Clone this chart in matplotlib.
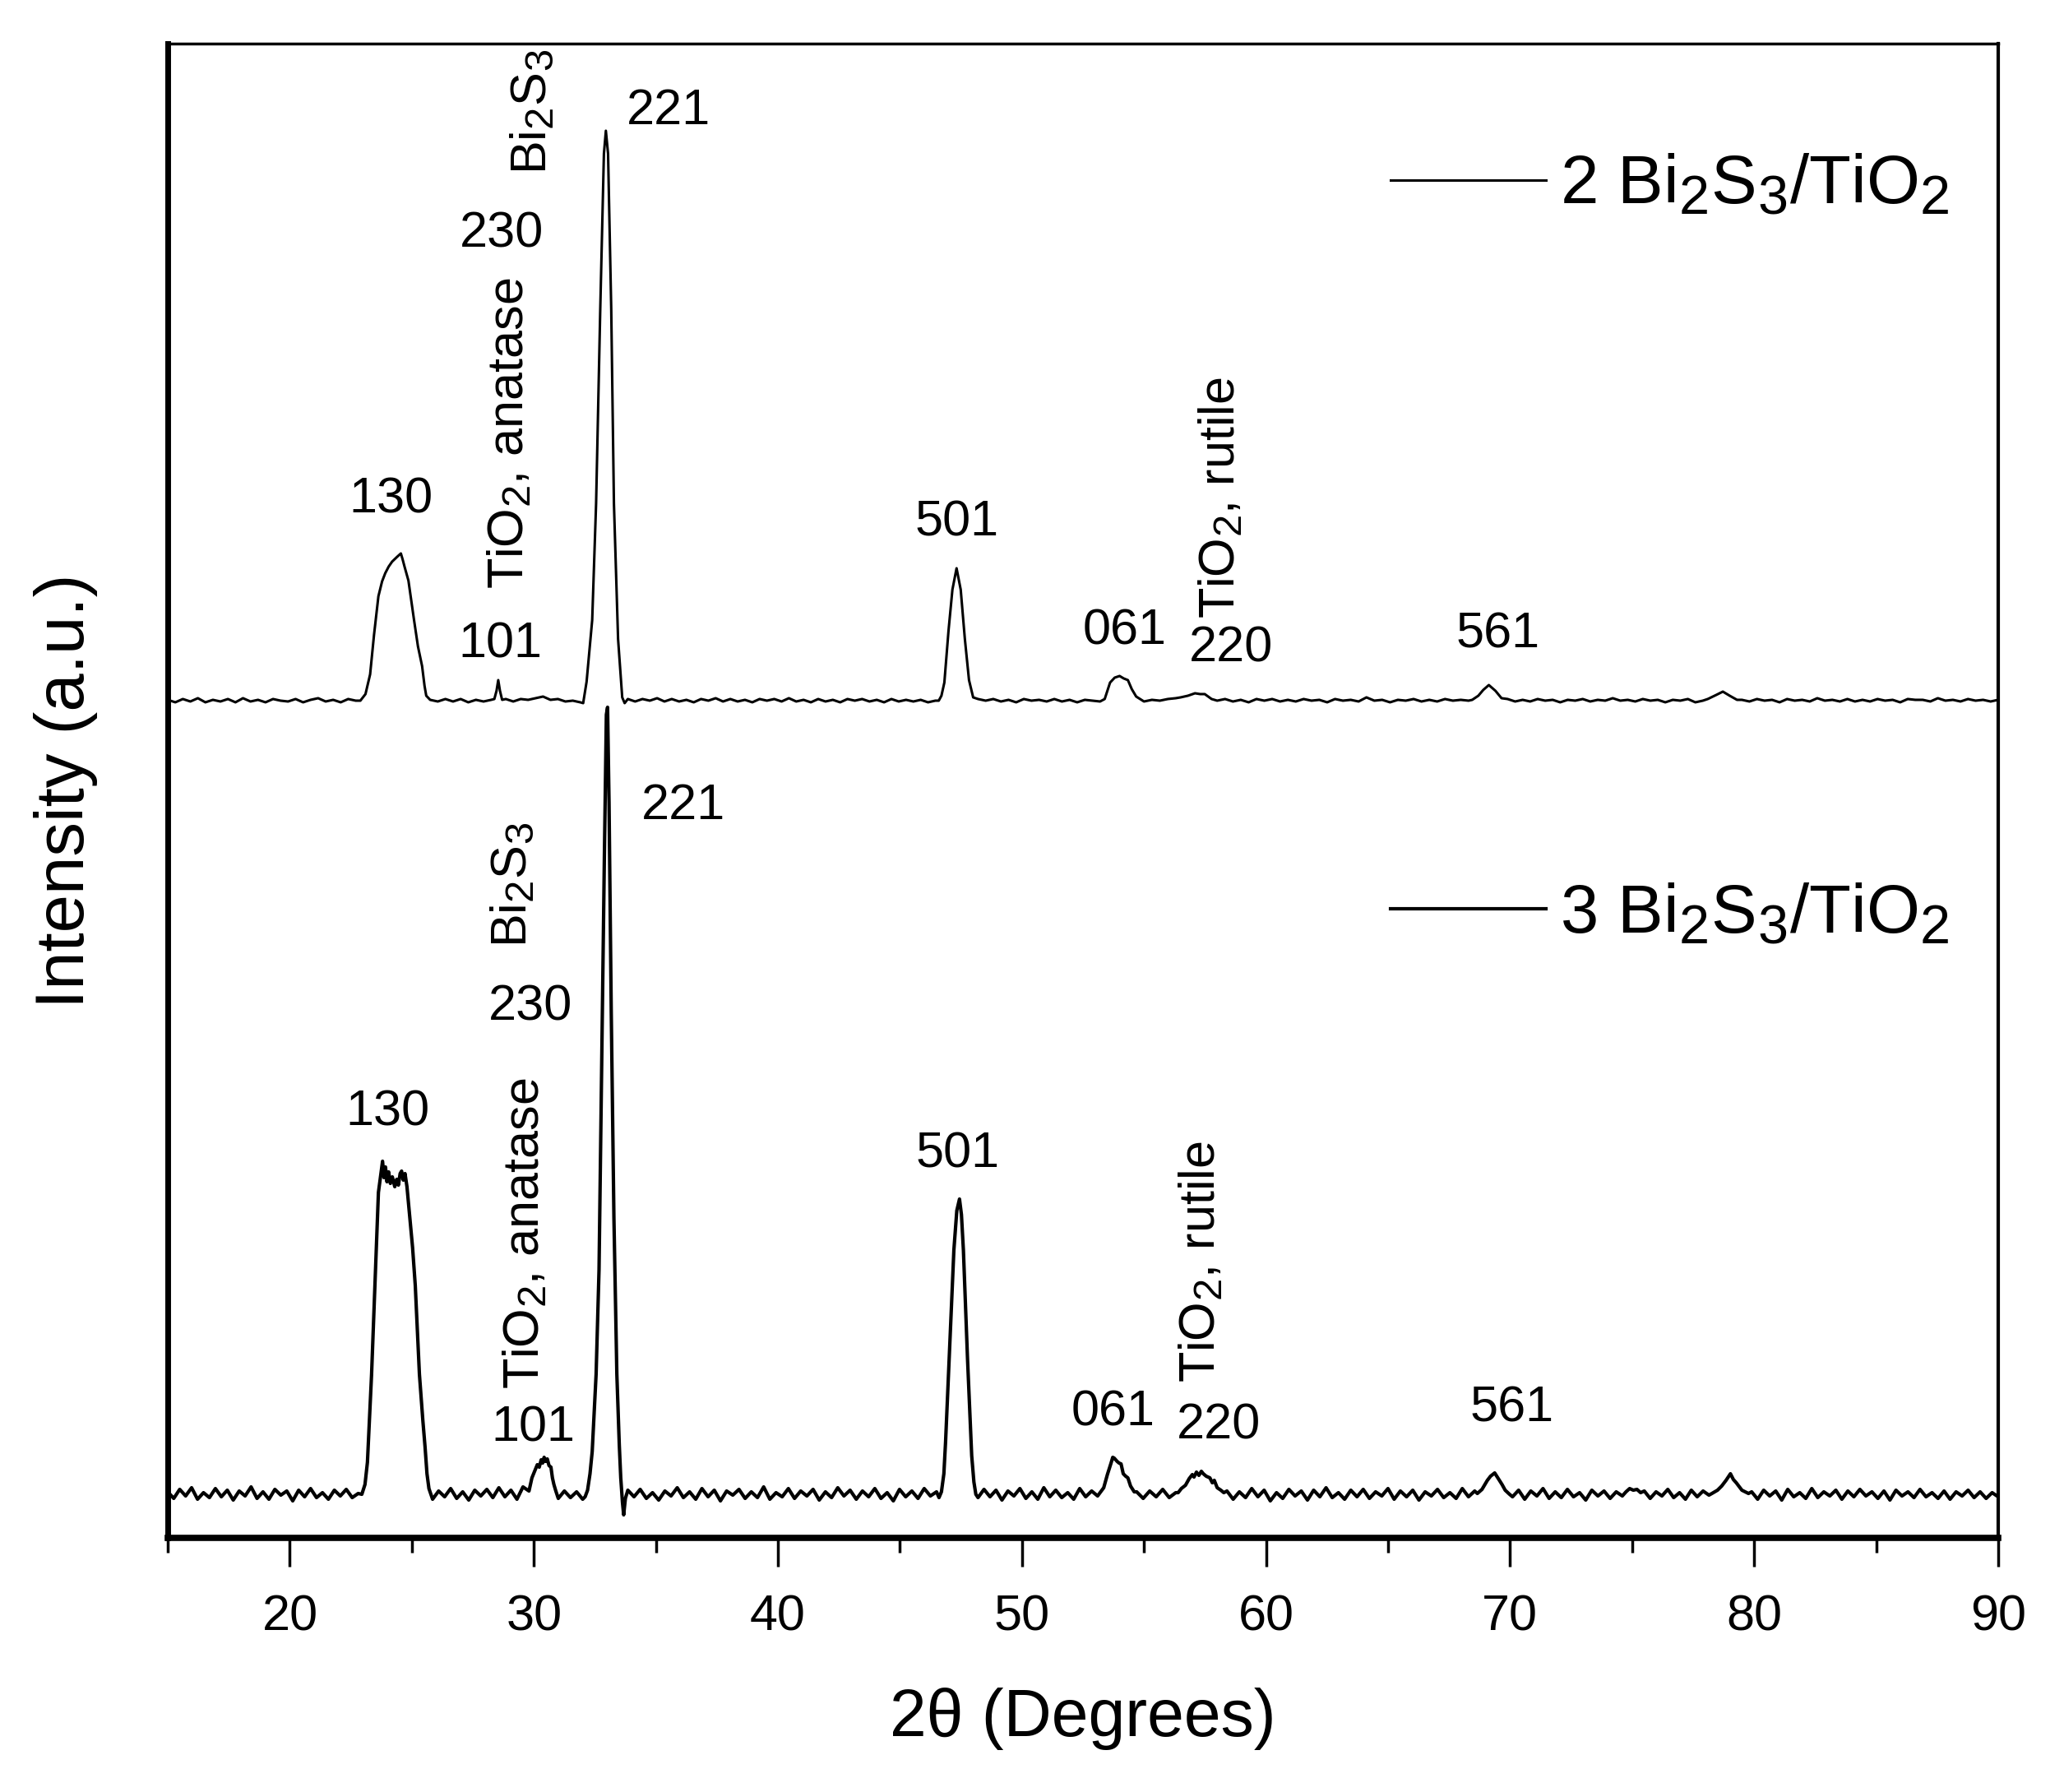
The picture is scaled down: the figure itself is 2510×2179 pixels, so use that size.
import numpy as np
import matplotlib
matplotlib.use("Agg")
import matplotlib.pyplot as plt

plt.rcParams["font.family"] = ["Liberation Sans", "DejaVu Sans"]
plt.rcParams["mathtext.fontset"] = "custom"
plt.rcParams["mathtext.rm"] = "Liberation Sans"
plt.rcParams["mathtext.it"] = "Liberation Sans"
plt.rcParams["mathtext.default"] = "regular"

# Origin-style subscripts are bigger than mathtext's default 0.7
try:
    import matplotlib._mathtext as _mt
    _mt.SHRINK_FACTOR = 0.8
except Exception:
    pass

# ---- 2 Bi2S3/TiO2 (upper pattern), intensity (a.u.) ----
upper_peaks = [
    # 130
    (22.89, 0), (23.1, 8), (23.29, 32), (23.45, 80), (23.63, 127), (23.78, 145),
    (23.91, 155), (24.05, 163), (24.19, 169), (24.4, 175), (24.55, 179),
    (24.62, 172), (24.7, 163), (24.86, 146), (25.09, 98), (25.25, 66),
    (25.42, 42), (25.52, 18), (25.59, 6),
    # 101 anatase
    (28.38, 2), (28.47, 12), (28.54, 25), (28.61, 12), (28.7, 1),
    # 221
    (32.02, -3), (32.16, 23), (32.39, 98), (32.55, 240), (32.72, 476),
    (32.87, 665), (32.95, 693), (33.04, 665), (33.17, 476), (33.28, 240),
    (33.45, 75), (33.62, 4), (33.72, -3),
    # 501
    (46.59, 0), (46.7, 6), (46.82, 22), (46.99, 85), (47.15, 135), (47.32, 161),
    (47.49, 135), (47.66, 75), (47.83, 25), (48.0, 4),
    # 061
    (53.39, 2), (53.61, 22), (53.8, 28), (54.0, 30), (54.17, 27), (54.34, 25),
    (54.5, 14), (54.68, 5),
    # 220 rutile
    (56.5, 4), (56.8, 6), (57.09, 9), (57.3, 8), (57.49, 8), (57.77, 2),
    # 561
    (68.45, 1), (68.7, 6), (68.9, 13), (69.13, 19), (69.4, 12), (69.65, 3),
    # ~79
    (78.1, 2), (78.45, 7), (78.72, 11), (79.0, 6), (79.3, 1),
]
upper_base = [  # (from, to, baseline readings)
    (15.0, 22.7, [1, -2, 2, -1, 3, -2, 1, -1, 2, -2, 3, -1, 1, -2, 2, 0, -1, 2, -2, 1, 3, -1, 1, -2, 2, 0]),
    (25.75, 28.25, [1, -1, 2, -1, 2, -2, 1, -1, 1]),
    (28.85, 31.9, [2, -1, 2, 1, 3, 5, 1, 2, -1, 0, -2]),
    (33.85, 46.45, [2, -1, 2, 0, 3, -1, 2, -1, 1, -2, 2, 0, 3, -1, 2, -1, 1, -2, 2, 0, 2, -1,
                    3, -1, 1, -2, 2, -1, 1, -2, 2, 0, 2, -1, 1, -2, 2, -1, 1, -1, 1, -2, 0]),
    (48.2, 53.2, [2, 0, 2, -1, 1, -2, 2, 0, 1, -1, 2, -1, 1, -2, 1, 0, -1]),
    (55.0, 56.3, [-1, 1, 0, 2, 3]),
    (58.0, 68.3, [0, 2, -1, 1, -2, 2, 0, 2, -1, 1, -1, 2, 0, 1, -2, 2, 0, 1, -1, 4, 0, 1,
                  -2, 1, 0, 2, -1, 1, -1, 2, 0, 1, 0]),
    (69.9, 77.9, [2, -1, 1, -1, 2, 0, 1, -2, 1, 0, 2, -1, 1, 0, 3, 0, 1, -1, 2, 0, 1, -2,
                  1, 0, 2, -2, 0]),
    (79.5, 90.0, [1, -1, 2, 0, 1, -2, 2, 0, 1, -1, 3, 0, 1, -1, 2, -1, 1, -1, 2, 0, 1, -2,
                  2, 1, 1, -1, 3, 0, 1, -1, 2, 0, 1, -1, 1]),
]

# ---- 3 Bi2S3/TiO2 (lower pattern) ----
lower_peaks = [
    # 130
    (22.95, 0), (23.08, 12), (23.18, 39), (23.35, 146), (23.51, 273), (23.63, 367),
    (23.74, 392), (23.8, 405), (23.86, 385), (23.92, 398), (23.98, 380), (24.05, 392),
    (24.12, 378), (24.2, 386), (24.3, 374), (24.38, 383), (24.45, 376), (24.52, 390),
    (24.58, 393), (24.65, 382), (24.72, 390), (24.8, 374), (24.92, 336), (25.03, 300),
    (25.14, 254), (25.31, 146), (25.45, 90), (25.54, 58), (25.62, 25), (25.7, 7),
    # 101 anatase
    (29.92, 20), (30.03, 28), (30.14, 36), (30.22, 33), (30.3, 42), (30.36, 38),
    (30.42, 45), (30.48, 40), (30.55, 43), (30.62, 35), (30.7, 33), (30.76, 20),
    (30.82, 12), (30.9, 4),
    # 221
    (32.1, -3), (32.2, 5), (32.3, 25), (32.39, 52), (32.55, 146), (32.67, 273),
    (32.78, 525), (32.89, 778), (32.97, 948), (33.02, 957), (33.08, 841), (33.17, 588),
    (33.28, 336), (33.4, 146), (33.5, 60), (33.56, 20), (33.63, -10), (33.68, -25),
    (33.75, -5),
    # 501
    (46.6, -4), (46.7, 3), (46.8, 25), (46.87, 64), (47.04, 180), (47.21, 297),
    (47.33, 345), (47.44, 359), (47.52, 340), (47.6, 297), (47.77, 164), (47.94, 47),
    (48.03, 15), (48.11, 0),
    # 061
    (53.2, 2), (53.35, 8), (53.5, 24), (53.65, 38), (53.72, 45), (53.78, 44), (53.9, 40),
    (53.98, 38), (54.06, 37), (54.15, 25), (54.25, 22), (54.34, 20), (54.45, 10), (54.6, 3),
    # 220 rutile
    (56.4, 2), (56.53, 7), (56.7, 11), (56.85, 19), (56.98, 24), (57.05, 21), (57.15, 27),
    (57.25, 23), (57.35, 28), (57.43, 25), (57.55, 22), (57.7, 20), (57.8, 14),
    (57.88, 17), (58.0, 8), (58.15, 5), (58.27, 2),
    # 561
    (68.66, 1), (68.85, 6), (69.07, 17), (69.2, 22), (69.37, 26), (69.5, 20),
    (69.67, 12), (69.8, 5), (69.98, 0),
    # ~75 and ~79
    (74.75, 3), (74.9, 7), (75.05, 5), (75.2, 6), (75.35, 2),
    (78.27, 1), (78.5, 5), (78.67, 10), (78.85, 17), (79.03, 25), (79.15, 18),
    (79.27, 14), (79.5, 5), (79.77, 1),
]
lower_base = [
    (15.0, 22.8, [3, -5, 6, -2, 8, -6, 2, -4, 7, -3, 5, -7, 4, -2, 9, -5, 3, -6, 6, -1, 4, -8,
                  5, -3, 7, -4, 2, -6, 5, -2, 6, -4, 1]),
    (25.85, 29.8, [-6, 4, -3, 7, -5, 3, -7, 5, -2, 6, -4, 8, -3, 5, -6, 9, 4]),
    (31.0, 32.0, [-5, 4, -4, 3, -6]),
    (33.85, 46.5, [5, -3, 6, -5, 2, -7, 4, -2, 8, -4, 3, -6, 7, -3, 5, -8, 4, -1, 6, -5, 3, -4,
                   9, -6, 2, -3, 7, -5, 4, -2, 6, -7, 3, -4, 8, -2, 5, -6, 4, -3, 7, -5, 2, -8,
                   6, -3, 4, -5, 7, -2, 3]),
    (48.2, 53.1, [-4, 6, -3, 5, -7, 4, -2, 7, -5, 3, -6, 8, -3, 5, -4, 2, -6, 7, -3, 4, -2]),
    (54.7, 56.3, [3, -5, 4, -3, 6, -4, 2]),
    (58.4, 68.55, [4, -6, 3, -4, 7, -3, 5, -8, 2, -5, 6, -2, 4, -7, 5, -3, 8, -4, 2, -6, 5, -3,
                   6, -5, 3, -2, 7, -6, 4, -3, 5, -7, 3, -2, 6, -4, 2, -5, 7, -3, 4]),
    (70.1, 74.6, [-3, 5, -6, 4, -2, 7, -5, 3, -4, 6, -3, 2, -7, 5, -2, 4, -5, 3, -2]),
    (75.5, 78.15, [4, -5, 3, -2, 6, -4, 2, -6, 5, -3, 4, -1]),
    (79.9, 90.0, [3, -6, 5, -2, 4, -7, 6, -3, 2, -5, 7, -4, 3, -2, 5, -6, 4, -3, 6, -2, 3, -5,
                  4, -7, 5, -2, 3, -4, 6, -3, 2, -5, 4, -6, 3, -2, 5, -4, 3, -5, 2, -3]),
]

offsets = {"upper": 1018, "lower": 53}

# peak labels: (text, 2theta, y, rotation)
upper_labels = [
    ("130", 24.13, 1262, 0), ("101", 28.61, 1086, 0),
    ("TiO$_2$, anatase", 29.05, 1343, 90), ("230", 28.68, 1585, 0),
    ("Bi$_2$S$_3$", 29.96, 1734, 90), ("221", 35.52, 1734, 0),
    ("501", 47.34, 1234, 0), ("061", 54.19, 1102, 0),
    ("TiO$_2$, rutile", 58.19, 1265, 90), ("220", 58.56, 1081, 0),
    ("561", 69.51, 1098, 0),
]
lower_labels = [
    ("130", 24.0, 517, 0), ("101", 29.96, 133, 0),
    ("TiO$_2$, anatase", 29.66, 370, 90), ("230", 29.86, 645, 0),
    ("Bi$_2$S$_3$", 29.15, 794, 90), ("221", 36.12, 889, 0),
    ("501", 47.38, 466, 0), ("061", 53.75, 152, 0),
    ("TiO$_2$, rutile", 57.38, 336, 90), ("220", 58.06, 136, 0),
    ("561", 70.09, 157, 0),
]


def build(peaks, base):
    pts = list(peaks)
    for start, stop, vals in base:
        xs = np.linspace(start, stop, len(vals))
        pts += list(zip(xs, vals))
    pts.sort(key=lambda p: p[0])
    x, y = zip(*pts)
    return np.array(x), np.array(y, dtype=float)


fig = plt.figure(figsize=(25.1, 21.79), dpi=100)
ax = fig.add_axes([0.0813, 0.1418, 0.9681 - 0.0813, 0.9757 - 0.1418])

x_up, y_up = build(upper_peaks, upper_base)
x_lo, y_lo = build(lower_peaks, lower_base)
l_up, = ax.plot(x_up, y_up + offsets["upper"], color="k", lw=2.2)
l_lo, = ax.plot(x_lo, y_lo + offsets["lower"], color="k", lw=3.0)

for txt, xx, yy, rot in upper_labels + lower_labels:
    ax.text(xx, yy, txt, fontsize=44, rotation=rot, ha="center", va="center")

ax.set_xlim(15, 90)
ax.set_ylim(0, 1817)
ax.set_xticks(np.arange(20, 91, 10))
ax.set_xticks(np.arange(15, 91, 10), minor=True)
ax.set_yticks([])
ax.tick_params(axis="x", which="major", direction="out", length=25, width=2.5,
               labelsize=44, pad=24)
ax.tick_params(axis="x", which="minor", direction="out", length=13, width=2.5)

ax.spines["bottom"].set_linewidth(5.5)
ax.spines["left"].set_linewidth(5.0)
ax.spines["top"].set_linewidth(2.5)
ax.spines["right"].set_linewidth(3.0)

ax.set_xlabel("2θ (Degrees)", fontsize=58)
ax.xaxis.set_label_coords(0.5, -0.100)
ax.set_ylabel("Intensity (a.u.)", fontsize=60)
ax.yaxis.set_label_coords(-0.038, 0.5)

leg_kw = dict(loc="center left", frameon=False, fontsize=60, handlelength=2.27,
              handletextpad=0.2, borderpad=0, borderaxespad=0)
leg1 = ax.legend([l_up], ["2 Bi$_2$S$_3$/TiO$_2$"], bbox_to_anchor=(0.668, 0.905), **leg_kw)
ax.add_artist(leg1)
ax.legend([l_lo], ["3 Bi$_2$S$_3$/TiO$_2$"], bbox_to_anchor=(0.668, 0.417), **leg_kw)

fig.savefig("out.png", dpi=100, facecolor="white")
